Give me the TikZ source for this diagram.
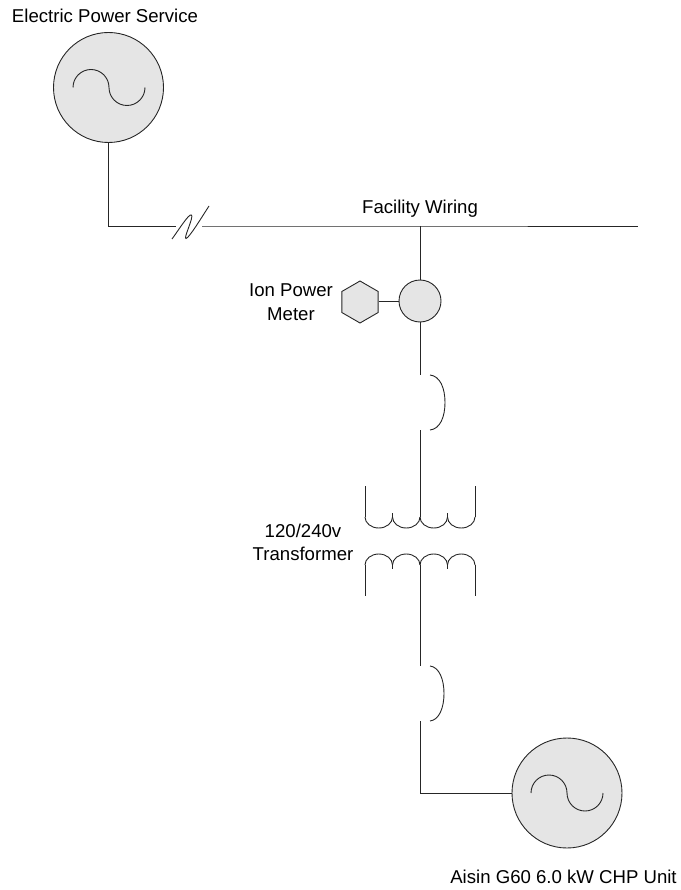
\documentclass[tikz,border=0pt]{standalone}
\usepackage{fontspec}
\setmainfont{Liberation Sans}
\usetikzlibrary{shapes.geometric}
\definecolor{symfill}{gray}{0.9}
\tikzset{
	wire/.style={line width=0.9pt,black!85},
	source/.style={circle,draw,wire,fill=symfill,minimum size=110pt,inner sep=0pt},
	meter/.style={circle,draw,wire,fill=symfill,minimum size=42pt,inner sep=0pt},
	ionbox/.style={regular polygon,regular polygon sides=6,shape border rotate=30,draw,wire,fill=symfill,minimum size=42pt,inner sep=0pt},
	lbl/.style={font=\fontsize{18.6pt}{23.5pt}\selectfont,align=center,inner sep=0pt}
}
\begin{document}
\begin{tikzpicture}[x=1pt,y=-1pt]
	\useasboundingbox (0,0) rectangle (680,890);

	% symbols
	\node[source] (utility) at (108.5,87.5) {};
	\node[source] (chp) at (567,793) {};
	\node[meter] (ct) at (420,301) {};
	\node[ionbox] (ion) at (360,302) {};

	\coordinate (corner1) at (108.5,226);
	\coordinate (breakL) at (176,226);
	\coordinate (breakR) at (202,226);
	\coordinate (busend) at (638,226);
	\coordinate (tap) at (420,226);
	\coordinate (cb1top) at (420,375);
	\coordinate (cb1bot) at (420,430);
	\coordinate (xfmrtop) at (420,517);
	\coordinate (xfmrbot) at (420,565);
	\coordinate (cb2top) at (420,666);
	\coordinate (cb2bot) at (420,721);
	\coordinate (corner2) at (420,793);

	% wiring
	\draw[wire] (utility.south) -- (corner1) -- (breakL);
	\draw[wire] (breakR) -- (tap) -- (busend);
	\draw[wire] (tap) -- (ct.north);
	\draw[wire] (ion.east |- ct.west) -- (ct.west);
	\draw[wire] (ct.south) -- (cb1top);
	\draw[wire] (cb1bot) -- (xfmrtop);
	\draw[wire] (xfmrbot) -- (cb2top);
	\draw[wire] (cb2bot) -- (corner2) -- (chp.west);

	% line break mark
	\draw[wire] (172,239) .. controls (178,231) and (189,213) .. (191.5,215) .. controls (194,217) and (183,239) .. (186,238.5) .. controls (189,238) and (200,220) .. (209,206);

	% breakers
	\draw[wire] (430,375) .. controls (440,376) and (445,388) .. (445,402.5) .. controls (445,417) and (440,429) .. (430,430);
	\draw[wire] (430,666) .. controls (439,667) and (444,679) .. (444,693.5) .. controls (444,708) and (439,720) .. (430,721);

	% sine waves
	\foreach \n/\cx/\cy in {a/109/87.5,b/567/793} {
		\draw[wire] (\cx-36,\cy) arc[start angle=180,end angle=0,radius=18,y radius=-18];
		\draw[wire] (\cx,\cy) arc[start angle=180,end angle=360,radius=18,y radius=-18];
	}

	% transformer windings
	\draw[wire] (365,486) -- (365,517);
	\draw[wire] (475,486) -- (475,517);
	\draw[wire] (365,565) -- (365,596);
	\draw[wire] (475,565) -- (475,596);
	\foreach \x in {365,392.5,420,447.5} {
		\draw[wire] (\x,517) arc[start angle=180,end angle=360,x radius=13.75,y radius=-11];
		\draw[wire] (\x,565) arc[start angle=180,end angle=0,x radius=13.75,y radius=-11];
	}
	\foreach \x in {392.5,447.5} {
		\draw[wire] (\x,517) -- (\x,513);
		\draw[wire] (\x,565) -- (\x,569);
	}

	% labels
	\node[lbl] (utilitylbl) at (105,16) {Electric Power Service};
	\node[lbl] (buslbl) at (420,209) {Facility Wiring};
	\node[lbl] (ionlbl) at (291,302) {Ion Power\\Meter};
	\node[lbl] (xfmrlbl) at (303,542.5) {120/240v\\Transformer};
	\node[lbl] (chplbl) at (563.5,877) {Aisin G60 6.0 kW CHP Unit};
\end{tikzpicture}
\end{document}
